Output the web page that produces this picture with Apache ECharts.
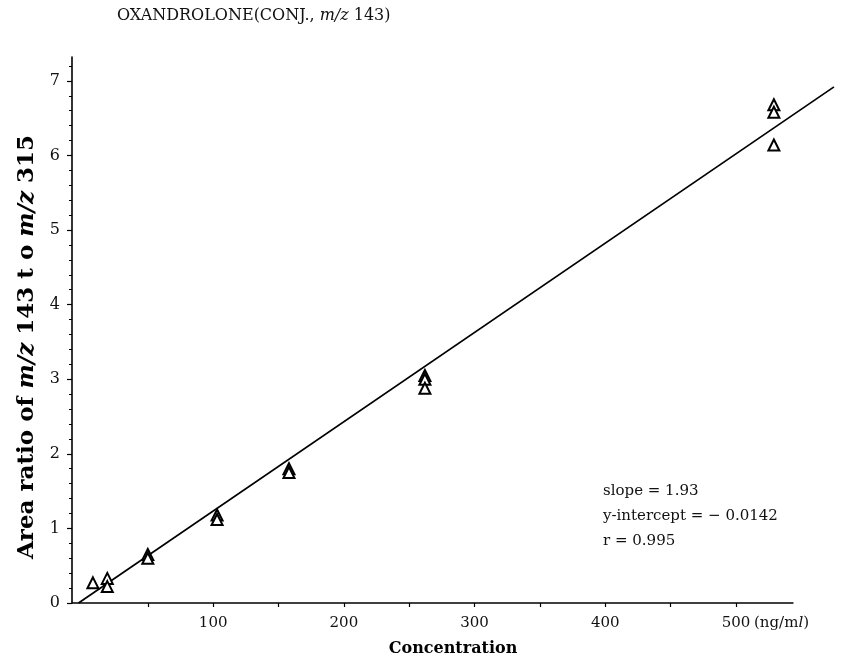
<!DOCTYPE html>
<html>
<head>
<meta charset="utf-8">
<script src="https://cdn.jsdelivr.net/npm/echarts@6/dist/echarts.min.js"></script>
<style>html,body{margin:0;padding:0;background:#fff}#c{width:867px;height:665px}</style>
</head>
<body>
<div id="c"></div>
<script>
// Data (x positions relative to the drawn x axis)
const concentration = [8, 19, 19, 50, 50, 103, 103, 158, 158, 262, 262, 262, 529, 529, 529];
const areaRatio = [0.27, 0.33, 0.22, 0.65, 0.60, 1.18, 1.12, 1.80, 1.75, 3.05, 3.00, 2.88, 6.68, 6.58, 6.14];
const fitX = [-3, 575];
const fitY = [0, 6.92];
const xTickValues = [50, 100, 150, 200, 250, 300, 350, 400, 450, 500];
const xLabelValues = [100, 200, 300, 400, 500];
const yLabelValues = [0, 1, 2, 3, 4, 5, 6, 7];
const xAxisEnd = 544;
const titleText = 'OXANDROLONE(CONJ., {i|m/z} 143)';
const unitText = '(ng/m{i|l})';
const statLines = ['slope = 1.93', 'y-intercept = \u2212 0.0142', 'r = 0.995'];

const serif = 'DejaVu Serif';
const ink = '#000';
const chart = echarts.init(document.getElementById('c'), null, {renderer: 'canvas'});
chart.setOption({
  backgroundColor: '#fff',
  animation: false,
  title: {
    text: titleText,
    left: 112, top: 3,
    textStyle: {
      fontFamily: serif, fontSize: 16, fontWeight: 'normal', color: '#111',
      rich: { i: {fontFamily: serif, fontSize: 16, fontStyle: 'italic', color: '#111'} }
    }
  },
  grid: {left: 72, right: 33, top: 57, bottom: 62, containLabel: false},
  xAxis: {
    type: 'value', min: -8, max: 575,
    name: 'Concentration', nameLocation: 'middle', nameGap: 38,
    nameTextStyle: {fontFamily: serif, fontSize: 16, fontWeight: 'bold', color: ink},
    axisLine: {show: false},
    axisTick: {show: true, inside: false, length: 4, customValues: xTickValues, lineStyle: {color: ink, width: 1.2}},
    axisLabel: {customValues: xLabelValues, margin: 13, fontFamily: serif, fontSize: 15, color: '#111'},
    splitLine: {show: false}
  },
  yAxis: {
    type: 'value', min: 0, max: 7.32,
    axisLine: {show: true, onZero: false, lineStyle: {color: ink, width: 1.6}},
    axisTick: {show: true, inside: false, length: 5, customValues: yLabelValues, lineStyle: {color: ink, width: 1.2}},
    minorTick: {show: true, splitNumber: 5, length: 3, lineStyle: {color: ink, width: 1}},
    axisLabel: {customValues: yLabelValues, margin: 12, fontFamily: serif, fontSize: 16, color: '#111'},
    splitLine: {show: false}
  },
  graphic: [
    {
      type: 'text', x: 27, y: 347, rotation: Math.PI / 2,
      style: {
        text: '{b|Area ratio of }{bi|m/z}{b| 143 t o }{bi|m/z}{b| 315}',
        align: 'center', verticalAlign: 'middle',
        rich: {
          b: {fontFamily: serif, fontSize: 23, fontWeight: 'bold', fill: ink},
          bi: {fontFamily: serif, fontSize: 23, fontWeight: 'bold', fontStyle: 'italic', fill: ink}
        }
      }
    },
    {
      type: 'text', left: 754, top: 616,
      style: {
        text: unitText, fill: '#111', font: '15px "' + serif + '"',
        rich: {i: {fontFamily: serif, fontSize: 15, fontStyle: 'italic', fill: '#111'}}
      }
    }
  ].concat(statLines.map((t, i) => ({
    type: 'text', left: 603, top: 484 + i * 25,
    style: {text: t, font: '15px "' + serif + '"', fill: '#111'}
  }))),
  series: [
    {
      type: 'line', data: fitX.map((x, i) => [x, fitY[i]]),
      symbol: 'none', clip: false, silent: true,
      lineStyle: {color: ink, width: 1.7}
    },
    {
      type: 'scatter', data: concentration.map((x, i) => [x, areaRatio[i]]),
      symbol: 'triangle', symbolSize: [11, 11],
      itemStyle: {color: '#fff', borderColor: ink, borderWidth: 2, opacity: 1},
      z: 3,
      markLine: {
        silent: true, symbol: ['none', 'none'], label: {show: false},
        lineStyle: {color: ink, width: 1.6, type: 'solid'},
        data: [[{coord: [-8, 0]}, {coord: [xAxisEnd, 0]}]]
      }
    }
  ]
});
</script>
</body>
</html>
